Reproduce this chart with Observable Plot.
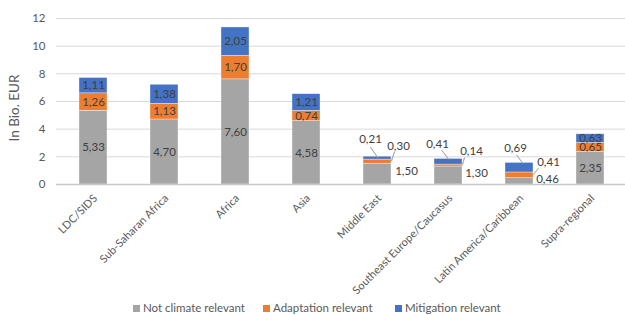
<!DOCTYPE html>
<html>
<head>
<meta charset="utf-8">
<script src="https://cdn.jsdelivr.net/npm/d3@7"></script>
<script src="https://cdn.jsdelivr.net/npm/@observablehq/plot@0.6"></script>
<style>
  html, body { margin: 0; padding: 0; background: #fff; }
  body { width: 625px; height: 315px; overflow: hidden; font-family: Lato, "Open Sans", sans-serif; }
  #chart svg { display: block; font-family: Lato, sans-serif; overflow: visible; }
  #legend { position: relative; height: 15px; font-size: 11.5px; color: #595959; }
  #legend .item { position: absolute; top: 0; display: flex; align-items: center; line-height: 16px; white-space: nowrap; }
  #legend .sw { width: 7px; height: 7px; margin-right: 3px; display: inline-block; }
</style>
</head>
<body>
<div id="chart"></div>
<div id="legend"></div>
<script>
const regions = ["LDC/SIDS", "Sub-Saharan Africa", "Africa", "Asia", "Middle East", "Southeast Europe/Caucasus", "Latin America/Caribbean", "Supra-regional"];
const seriesNames = ["Not climate relevant", "Adaptation relevant", "Mitigation relevant"];
const notClimate = [5.33, 4.70, 7.60, 4.58, 1.50, 1.30, 0.46, 2.35];
const adaptation = [1.26, 1.13, 1.70, 0.74, 0.30, 0.14, 0.41, 0.65];
const mitigation = [1.11, 1.38, 2.05, 1.21, 0.21, 0.41, 0.69, 0.63];
const yTicks = [0, 2, 4, 6, 8, 10, 12];
const colors = ["#A5A5A5", "#ED7D31", "#4472C4"];

// layout for labels placed outside small bars (pixel offsets from segment middle)
const outsideLabels = {
  "Middle East": [[29, -3], [21, -15], [-7, -19]],
  "Southeast Europe/Caucasus": [[28, -2], [23, -14], [-11, -17]],
  "Latin America/Caribbean": [[28, -2], [29, -13], [-4, -19]]
};
// leader lines: start point (at segment mid or top) + pixel vector
const leaders = [
  {region: "Middle East", s: 1, at: "mid", dx: 14, dy: -1, vx: 3, vy: -9},
  {region: "Middle East", s: 2, at: "top", dx: 0, dy: 0.5, vx: -7, vy: -10},
  {region: "Southeast Europe/Caucasus", s: 1, at: "mid", dx: 14, dy: -1, vx: 2, vy: -7},
  {region: "Southeast Europe/Caucasus", s: 2, at: "top", dx: 0, dy: 0, vx: -7, vy: -9},
  {region: "Latin America/Caribbean", s: 1, at: "mid", dx: 14, dy: -1, vx: 5, vy: -6},
  {region: "Latin America/Caribbean", s: 2, at: "top", dx: 3, dy: 0, vx: -6, vy: -8}
];

const seriesValues = [notClimate, adaptation, mitigation];
const rows = [];
regions.forEach((r, i) => {
  let base = 0;
  seriesNames.forEach((s, j) => {
    const v = seriesValues[j][i];
    rows.push({region: r, series: s, si: j, value: v, y1: base, y2: base + v, mid: base + v / 2,
               label: v.toFixed(2).replace(".", ",")});
    base += v;
  });
});
const findRow = (r, s) => rows.find(d => d.region === r && d.si === s);

const insideRows = rows.filter(d => !(d.region in outsideLabels));
const marks = [
  Plot.ruleY(yTicks, {y: d => d, stroke: "#D9D9D9", strokeWidth: 1}),
  Plot.rectY(rows, {x: "region", y1: "y1", y2: "y2", fill: "series", stroke: "#ffffff", strokeWidth: 0.6, strokeOpacity: 0.6}),
  Plot.ruleY([0], {stroke: "#C8C8C8", strokeWidth: 1.5}),
  Plot.axisY(yTicks, {tickSize: 0, tickPadding: 11, fontSize: 11.5, fill: "#595959", label: null}),
  Plot.axisX({tickSize: 0, tickPadding: 12, tickRotate: -45, fontSize: 11, fill: "#595959", dx: 2, label: null}),
  Plot.text(insideRows, {x: "region", y: "mid", text: "label", fill: "#404040", fontSize: 11.5}),
  Plot.text(["In Bio. EUR"], {frameAnchor: "left", dx: -42, dy: 40, rotate: -90, fontSize: 13.5, fill: "#595959"})
];
for (const r of Object.keys(outsideLabels)) {
  outsideLabels[r].forEach(([dx, dy], s) => {
    marks.push(Plot.text([findRow(r, s)], {x: "region", y: "mid", text: "label", dx, dy, fill: "#404040", fontSize: 11.5}));
  });
}
for (const l of leaders) {
  const row = findRow(l.region, l.s);
  marks.push(Plot.vector([row], {
    x: "region", y: l.at === "top" ? "y2" : "mid", dx: l.dx, dy: l.dy,
    length: Math.hypot(l.vx, l.vy), rotate: Math.atan2(l.vx, -l.vy) * 180 / Math.PI,
    anchor: "start", shape: "spike", r: 0, stroke: "#A6A6A6", strokeWidth: 0.75, fill: "none"
  }));
}

const chart = Plot.plot({
  width: 625,
  height: 300,
  marginLeft: 56,
  marginRight: 0,
  marginTop: 18,
  marginBottom: 116,
  style: {fontFamily: "Lato, sans-serif", color: "#595959", background: "#fff", overflow: "visible"},
  x: {domain: regions, range: [55, 629], paddingInner: 0.6, paddingOuter: 0.3},
  y: {domain: [0, 12]},
  color: {domain: seriesNames, range: colors},
  marks
});
document.getElementById("chart").appendChild(chart);

const legendX = [133, 263, 395];
const legend = document.getElementById("legend");
seriesNames.forEach((s, i) => {
  const item = document.createElement("div");
  item.className = "item";
  item.style.left = legendX[i] + "px";
  const sw = document.createElement("span");
  sw.className = "sw";
  sw.style.background = colors[i];
  item.appendChild(sw);
  item.appendChild(document.createTextNode(s));
  legend.appendChild(item);
});
</script>
</body>
</html>
